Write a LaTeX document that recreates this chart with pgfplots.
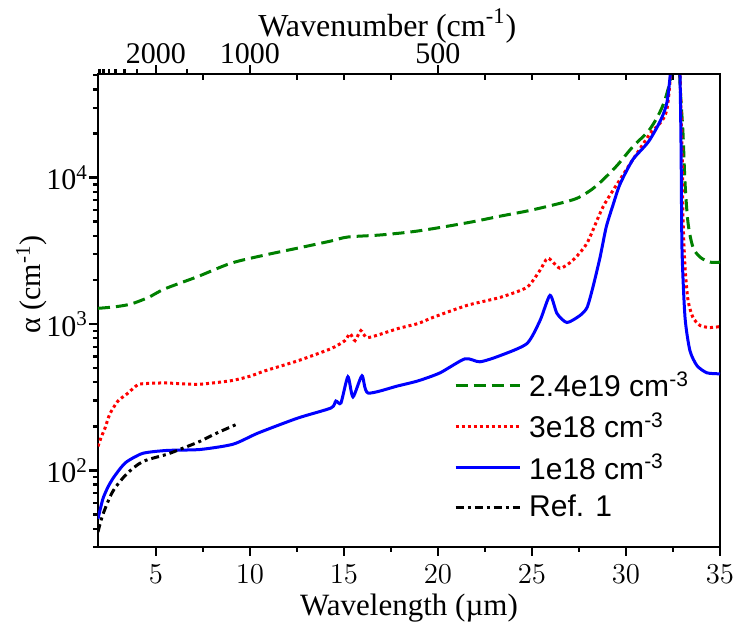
\documentclass[border=0pt]{standalone}
\usepackage{fontspec}
\setmainfont{Liberation Serif}
\newfontfamily\arial{Liberation Sans}
\usepackage{pgfplots}
\pgfplotsset{compat=1.18}

\definecolor{dkgreen}{rgb}{0,0.5,0}

\pgfplotsset{
  frame/.style={
    scale only axis, width=311pt, height=236.5pt,
    xmin=1.92, xmax=35,
    axis line style={line width=1.4pt},
    tick style={line width=1.2pt, black},
    major tick length=4.5pt, minor tick length=2.5pt,
    tick align=outside,
  },
}

\begin{document}
\begin{tikzpicture}[font=\fontsize{15}{18}\selectfont]
\begin{axis}[
  frame, name=main,
  ymode=log, ymin=30, ymax=51000,
  xtick={5,10,...,35}, minor xtick={7.5,12.5,...,32.5},
  xtick pos=bottom, ytick pos=left,
  xticklabel style={font=\arial\fontsize{15}{18}\selectfont, yshift=-1pt},
  ytick={100,1000,10000},
  yticklabels={10\textsuperscript{2},10\textsuperscript{3},10\textsuperscript{4}},
  yticklabel style={xshift=3pt},
  minor ytick={30,40,50,60,70,80,90,200,300,400,500,600,700,800,900,
    2000,3000,4000,5000,6000,7000,8000,9000,20000,30000,40000,50000},
  xlabel={Wavelength (µm)},
  ylabel={α (cm\textsuperscript{-1})},
  ylabel style={at={(ticklabel cs:0.555)}},
  ylabel shift=-7pt,
  xlabel style={yshift=1.5pt, font=\fontsize{15.5}{18}\selectfont},
  legend style={at={(rel axis cs:0.572,0.38)}, anchor=north west,
    draw=none, fill=none, font=\arial\fontsize{15}{17}\selectfont,
    row sep=2.5pt, inner sep=0pt,
    /tikz/every odd column/.append style={column sep=2pt}},
  legend cell align=left,
  legend image code/.code={\draw[#1] (0pt,0pt) -- (32pt,0pt);},
]
\addplot[dkgreen, line width=1.5pt, dash pattern=on 6pt off 3pt, smooth, tension=0.5] coordinates {
(1.92,1280) (2.8,1310) (3.67,1370) (4.6,1520) (5.48,1740)
(7.23,2110) (8.99,2600) (10.8,2960) (12.55,3300) (14.31,3690)
(15.21,3930) (16.97,4060) (18.94,4320) (21.54,4910) (23.3,5450) (25.05,6030)
(27.18,7060) (28.0,8000) (28.62,9250) (29.5,12000) (30.37,16300) (31.28,21500)
(32.0,32000) (32.45,55000) (32.72,150000) (32.87,44700)
(33.03,20400) (33.14,9250) (33.30,4910) (33.56,3357) (33.94,2865) (34.47,2646) (35,2646)
};
\addlegendentry{2.4e19 cm\textsuperscript{-3}}
\addplot[red, line width=1.5pt, dash pattern=on 1.5pt off 1.5pt, smooth, tension=0.4] coordinates {
(1.92,146) (2.1,170) (2.29,194) (2.55,243) (2.98,298) (3.46,333) (4.04,385)
(4.6,393) (5.48,396) (6.5,390) (7.34,388) (8.99,410) (10.0,440) (10.8,479)
(12.55,561) (14.31,679) (15.05,770) (15.32,860) (15.59,770) (15.9,902) (16.28,808)
(17.87,931) (18.94,1008) (19.73,1109) (21.54,1340) (23.3,1520) (24.73,1782)
(25.43,2332) (25.85,2818) (26.49,2405) (27.18,2731) (27.93,3575) (28.78,6319)
(29.68,9690) (30.37,13300) (31.28,20000) (32.18,29300) (32.72,150000)
(32.98,15600) (33.03,5400) (33.14,2445) (33.30,1452) (33.56,1109) (33.94,977)
(34.47,946) (35,961)
};
\addlegendentry{3e18 cm\textsuperscript{-3}}
\addplot[blue, line width=1.5pt, smooth, tension=0.4] coordinates {
(1.92,46.8) (2.18,64) (2.45,77) (2.71,88) (3.1,103) (3.46,115) (4.31,131)
(5.59,137) (7.34,139) (9.10,151) (10.43,180) (12.55,228) (14.31,267) (14.57,298)
(14.84,289) (15.21,436) (15.48,318) (15.96,443) (16.28,338) (17.87,378)
(18.94,409) (20.11,464) (21.44,579) (22.23,552) (23.30,608) (24.73,735)
(25.43,1057) (25.96,1570) (26.33,1181) (26.86,1024) (27.55,1143) (27.93,1296)
(28.24,1782) (28.62,2850) (28.95,4600) (29.31,6500) (29.68,9000) (30.37,13300)
(31.28,18250) (32.18,32750) (32.72,150000) (32.87,51000) (32.93,15600)
(32.98,3200) (33.14,1109) (33.40,658) (33.78,519) (34.31,464) (35,457)
};
\addlegendentry{1e18 cm\textsuperscript{-3}}
\addplot[black, line width=1.5pt, dash pattern=on 4pt off 2pt on 1.5pt off 2pt, smooth] coordinates {
(1.92,38) (2.18,50) (2.71,72) (3.46,95) (4.31,115) (5.59,129) (6.44,142)
(7.34,158) (8.24,180) (9.31,207)
};
\addlegendentry{Ref. 1}
\end{axis}
\begin{axis}[
  frame,
  ymin=0, ymax=1,
  axis x line*=top, axis y line=none,
  xtick={5,10,20}, xticklabels={2000,1000,500},
  minor xtick={2,2.222,2.5,2.857,3.333,4,6.667},
  extra x ticks={7.5,12.5,15,17.5,22.5,25,27.5,30,32.5},
  extra x tick labels={},
  extra x tick style={tick align=inside, major tick length=3pt},
  xticklabel style={yshift=-3pt},
  xlabel={Wavenumber (cm\textsuperscript{-1})},
  xlabel style={at={(ticklabel cs:0.465)}, yshift=-11pt, font=\fontsize{16}{18}\selectfont},
]
\end{axis}
\pgfresetboundingbox
\path ([xshift=-49pt,yshift=-38.5pt]main.south west)
  rectangle ([xshift=10pt,yshift=37pt]main.north east);
\end{tikzpicture}
\end{document}
